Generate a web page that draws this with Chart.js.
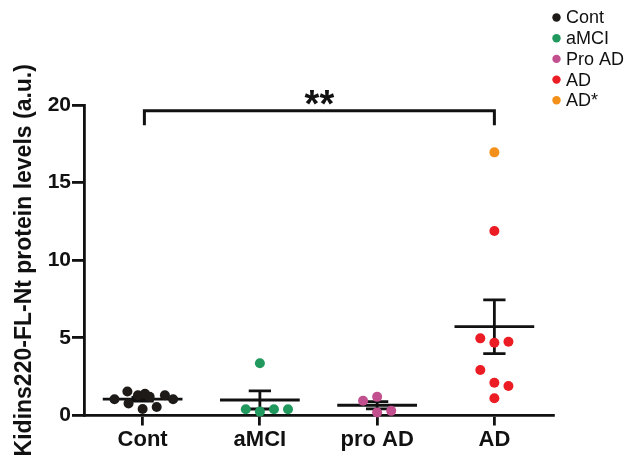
<!DOCTYPE html>
<html>
<head>
<meta charset="utf-8">
<script src="https://cdn.jsdelivr.net/npm/chart.js@4.4.1/dist/chart.umd.min.js"></script>
<style>
  html, body { margin: 0; padding: 0; background: #fff; }
  canvas { display: block; }
</style>
</head>
<body>
<canvas id="chart" width="641" height="461"></canvas>
<script>
// values
const categories = ['Cont', 'aMCI', 'pro AD', 'AD'];
const yTicks = [0, 5, 10, 15, 20];
const legendLabels = ['Cont', 'aMCI', 'Pro AD', 'AD', 'AD*'];

const contValues = [1.05, 1.55, 0.78, 1.3, 1.4, 0.42, 1.2, 0.55, 1.3, 1.05];
const contSpread = [-0.24, -0.13, -0.12, -0.04, 0.02, 0, 0.06, 0.12, 0.19, 0.26];
const amciValues = [3.36, 0.4, 0.25, 0.4, 0.4];
const amciSpread = [0, -0.12, 0, 0.12, 0.24];
const proAdValues = [0.95, 1.2, 0.2, 0.3];
const proAdSpread = [-0.12, 0, 0, 0.12];
const adValues = [4.97, 4.69, 4.75, 2.93, 2.11, 1.9, 1.11, 11.88];
const adSpread = [-0.12, 0, 0.12, -0.12, 0, 0.12, 0, 0];
const adStarValues = [16.95];
const adStarSpread = [0];

const groupMeans = [1.05, 1.0, 0.66, 5.72];
const groupSem = [0.12, 0.58, 0.23, 1.73];
const significance = '**';

const colors = ['#1e1a17', '#21995e', '#c2508f', '#ec1c24', '#f39019'];
const FONT = '"Liberation Sans", Arial, Helvetica, sans-serif';

function points(values, spread, group) {
  return values.map((v, i) => ({ x: group + 1 + spread[i], y: v }));
}

const groups = [
  points(contValues, contSpread, 0),
  points(amciValues, amciSpread, 1),
  points(proAdValues, proAdSpread, 2),
  points(adValues, adSpread, 3),
  points(adStarValues, adStarSpread, 3)
];

const overlay = {
  id: 'overlay',
  beforeDatasetsDraw(chart) {
    const { ctx, scales: { x, y } } = chart;
    ctx.save();
    ctx.strokeStyle = '#111';
    ctx.lineWidth = 2.8;
    ctx.lineCap = 'butt';
    groupMeans.forEach((m, i) => {
      const cx = x.getPixelForValue(i + 1);
      const half = x.getPixelForValue(i + 1.34) - cx;
      const cap = x.getPixelForValue(i + 1.095) - cx;
      const ym = y.getPixelForValue(m);
      const yt = y.getPixelForValue(m + groupSem[i]);
      const yb = y.getPixelForValue(m - groupSem[i]);
      ctx.beginPath();
      ctx.moveTo(cx - half, ym); ctx.lineTo(cx + half, ym);
      ctx.moveTo(cx, yt); ctx.lineTo(cx, yb);
      ctx.moveTo(cx - cap, yt); ctx.lineTo(cx + cap, yt);
      ctx.moveTo(cx - cap, yb); ctx.lineTo(cx + cap, yb);
      ctx.stroke();
    });
    ctx.restore();
  },
  afterDraw(chart) {
    const { ctx, scales: { x, y } } = chart;
    ctx.save();
    // significance bracket Cont vs AD
    const x1 = x.getPixelForValue(1.015);
    const x2 = x.getPixelForValue(4);
    const yTop = y.getPixelForValue(19.63);
    const yLow = y.getPixelForValue(18.69);
    ctx.strokeStyle = '#111';
    ctx.lineWidth = 3;
    ctx.beginPath();
    ctx.moveTo(x1, yLow); ctx.lineTo(x1, yTop); ctx.lineTo(x2, yTop); ctx.lineTo(x2, yLow);
    ctx.stroke();
    ctx.fillStyle = '#111';
    ctx.font = 'bold 38px ' + FONT;
    ctx.textAlign = 'center';
    ctx.textBaseline = 'alphabetic';
    ctx.fillText(significance, (x1 + x2) / 2, yTop + 6);

    // legend, top right
    ctx.font = '18px ' + FONT;
    ctx.textAlign = 'left';
    ctx.textBaseline = 'middle';
    chart.data.datasets.forEach((ds, i) => {
      const ly = 17.5 + i * 20.7;
      ctx.fillStyle = ds.backgroundColor;
      ctx.beginPath();
      ctx.arc(556.5, ly, 4.2, 0, Math.PI * 2);
      ctx.fill();
      ctx.fillStyle = '#111';
      ctx.fillText(ds.label, 566, ly + 1);
    });
    ctx.restore();
  }
};

new Chart(document.getElementById('chart'), {
  type: 'scatter',
  data: {
    datasets: groups.map((g, i) => ({
      label: legendLabels[i],
      data: g,
      backgroundColor: colors[i],
      borderWidth: 0,
      pointRadius: 5,
      pointHoverRadius: 5,
      clip: false
    }))
  },
  options: {
    responsive: false,
    animation: false,
    devicePixelRatio: 1,
    layout: { padding: { left: 0, top: 105, right: 88, bottom: 0 } },
    plugins: {
      legend: { display: false },
      tooltip: { enabled: false }
    },
    scales: {
      x: {
        type: 'linear',
        min: 0.5,
        max: 4.5,
        afterBuildTicks: s => { s.ticks = categories.map((c, i) => ({ value: i + 1 })); },
        afterFit: s => { s.height = 45.5; },
        ticks: {
          callback: v => categories[Math.round(v) - 1],
          font: { family: FONT, size: 22, weight: 'bold' },
          color: '#111',
          padding: 1,
          maxRotation: 0
        },
        grid: { drawOnChartArea: false, drawTicks: true, tickLength: 10, color: '#111', lineWidth: 2.8 },
        border: { display: true, color: '#111', width: 2.8 }
      },
      y: {
        min: 0,
        max: 20,
        afterBuildTicks: s => { s.ticks = yTicks.map(v => ({ value: v })); },
        afterFit: s => { s.width = 84; },
        ticks: {
          font: { family: FONT, size: 21, weight: 'bold' },
          color: '#111',
          padding: 1
        },
        title: {
          display: true,
          text: 'Kidins220-FL-Nt protein levels (a.u.)',
          font: { family: FONT, size: 23, weight: 'bold' },
          color: '#111',
          padding: { top: 11, bottom: 0 }
        },
        grid: { drawOnChartArea: false, drawTicks: true, tickLength: 12, color: '#111', lineWidth: 2.8 },
        border: { display: true, color: '#111', width: 2.8 }
      }
    }
  },
  plugins: [overlay]
});
</script>
</body>
</html>
